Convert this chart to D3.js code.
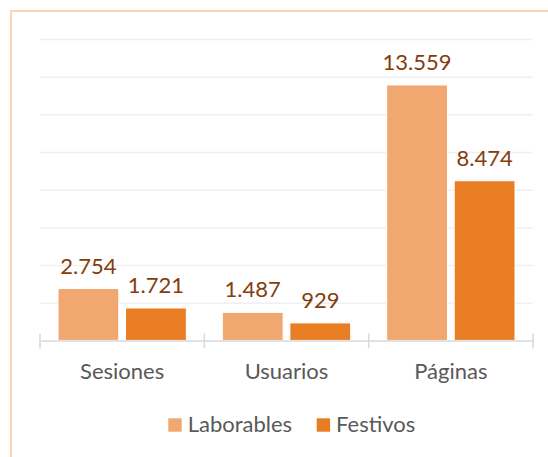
<!DOCTYPE html>
<html>
<head>
    <title>bar chart</title>
    <script type="text/javascript" src="https://cdn.jsdelivr.net/npm/d3@7"></script>
    <style type="text/css">
        body {
            margin: 0;
            background-color: #fff;
        }
        #chart text {
            font-family: Lato, "Open Sans", sans-serif;
        }
        .grid line {
            stroke: #f0f0f0;
            stroke-width: 1.5px;
        }
        .grid path {
            display: none;
        }
        #x-axis path, #x-axis line {
            stroke: #d9d9d9;
            stroke-width: 1.5px;
        }
    </style>
</head>

<body>
    <svg id="chart" width="548" height="457"></svg>
</body>

<script type="text/javascript">
    let categories = ["Sesiones", "Usuarios", "Páginas"];
    let series = ["Laborables", "Festivos"];
    let laborables = [2754, 1487, 13559];
    let festivos = [1721, 929, 8474];
    let gridTicks = [0, 2000, 4000, 6000, 8000, 10000, 12000, 14000, 16000];
    let colors = ["#f0a870", "#e87d23"];

    function fmt(v) {
        // spanish thousand separator
        return d3.format(",")(v).replace(/,/g, ".");
    }

    function draw() {
        const left = 40, right = 533;
        const top = 39, bottom = 340.4;

        let svg = d3.select("#chart");

        // light frame, cut off at right and bottom
        svg.append("rect")
           .attr("x", 11).attr("y", 11)
           .attr("width", 600).attr("height", 500)
           .attr("fill", "none")
           .attr("stroke", "#fcd5b5")
           .attr("stroke-width", 2);

        let x = d3.scaleBand().domain(categories).range([left, right]);
        let xs = d3.scaleBand().domain(series)
                   .range([18, x.bandwidth() - 18]).paddingInner(0.1);
        let y = d3.scaleLinear().domain([0, 16000]).range([bottom, top]);

        svg.append("g").attr("class", "grid")
           .attr("transform", "translate(" + left + ",0)")
           .call(d3.axisLeft(y).tickValues(gridTicks.slice(1))
                   .tickSize(-(right - left)).tickFormat(""));

        let rows = categories.map(function(c, i) {
            return { cat: c, vals: [laborables[i], festivos[i]] };
        });

        let groups = svg.selectAll(".cat").data(rows).enter()
                        .append("g").attr("class", "cat")
                        .attr("transform", function(d) { return "translate(" + x(d.cat) + ",0)"; });

        let items = groups.selectAll(".bar").data(function(d) {
            return d.vals.map(function(v, j) { return { s: series[j], v: v, j: j }; });
        }).enter();

        items.append("rect")
             .attr("x", function(d) { return xs(d.s); })
             .attr("y", function(d) { return y(d.v); })
             .attr("width", xs.bandwidth())
             .attr("height", function(d) { return bottom - y(d.v); })
             .attr("fill", function(d) { return colors[d.j]; })
             .attr("stroke", "#fff")
             .attr("stroke-width", 1);

        items.append("text")
             .attr("x", function(d) { return xs(d.s) + xs.bandwidth() / 2; })
             .attr("y", function(d) { return y(d.v) - 15; })
             .attr("text-anchor", "middle")
             .attr("font-size", "22px")
             .attr("fill", "#843c0c")
             .text(function(d) { return fmt(d.v); });

        let x_axis = svg.append("g").attr("id", "x-axis")
                        .attr("transform", "translate(0," + bottom + ")")
                        .call(d3.axisBottom(x).tickSize(0).tickSizeOuter(0));
        x_axis.selectAll("text")
              .attr("font-size", "22px")
              .attr("fill", "#595959")
              .attr("dy", null)
              .attr("y", 38.6);
        // category separators
        x_axis.selectAll(".sep").data(x.domain().concat(["end"])).enter()
              .append("line").attr("class", "sep")
              .attr("x1", function(d) { return d === "end" ? right : x(d); })
              .attr("x2", function(d) { return d === "end" ? right : x(d); })
              .attr("y1", -7).attr("y2", 8);

        // legend
        let legendX = [168.3, 316.7];
        let legend = svg.selectAll(".legend").data(series).enter()
                        .append("g").attr("class", "legend")
                        .attr("transform", function(d, i) { return "translate(" + legendX[i] + ",418.3)"; });
        legend.append("rect")
              .attr("width", 13.4).attr("height", 13.4)
              .attr("fill", function(d, i) { return colors[i]; });
        legend.append("text")
              .attr("x", 19.4).attr("y", 13.4)
              .attr("font-size", "22px")
              .attr("fill", "#595959")
              .text(function(d) { return d; });
    }

    draw();
</script>

</html>
